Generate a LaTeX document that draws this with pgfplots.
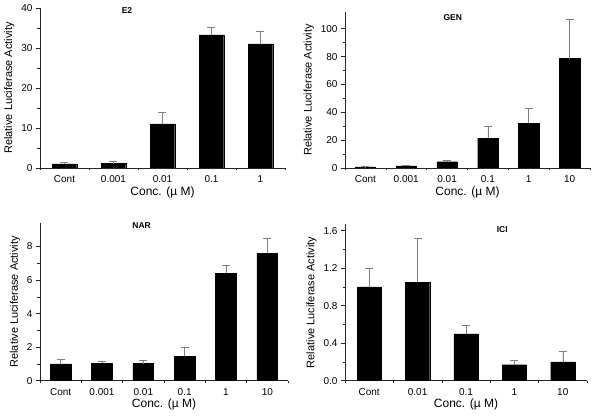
\documentclass[border=0pt]{standalone}
\usepackage{fontspec}
\setmainfont{Liberation Sans}
\usepackage{pgfplots}
\pgfplotsset{compat=1.18}

\pgfplotsset{
  panel/.style={
    scale only axis, anchor=south west,
    axis x line=bottom, axis y line=left,
    axis line style={-, black!85, line width=0.6pt},
    ybar, bar width=0.5, ymin=0,
    xtick=data,
    major x tick style={draw=none},
    tick align=outside,
    major tick length=4pt, minor tick length=2.5pt,
    every tick/.style={black!85, line width=0.6pt},
    minor y tick num=1,
    tick label style={font=\fontsize{10}{12}\selectfont},
    /pgf/number format/assume math mode=true,
    ylabel={Relative Luciferase Activity},
    xlabel={Conc. (µ M)},
    ylabel style={font=\fontsize{11}{13}\selectfont},
    xlabel style={font=\fontsize{12}{14}\selectfont, yshift=3pt},
    title style={font=\bfseries\fontsize{8.5}{10}\selectfont, anchor=north},
  },
  bars/.style={
    fill=black, draw=black,
    error bars/.cd, y dir=plus, y explicit,
    error bar style={gray, line width=0.6pt},
    error mark options={gray, rotate=90, mark size=4pt, line width=0.6pt},
  },
}

\begin{document}
\begin{tikzpicture}
\path[use as bounding box] (0pt,0pt) rectangle (600pt,417pt);

% E2
\begin{axis}[panel, at={(40pt,249pt)}, width=245pt, height=160pt,
    xmin=-0.5, xmax=4.5, ymax=40, ytick={0,10,20,30,40},
    minor xtick={-0.5,0.5,1.5,2.5,3.5,4.5},
    xticklabels={Cont,0.001,0.01,0.1,1},
    title={E2}, title style={at={(0.355,0.985)}}]
\addplot+[bars] coordinates {
  (0,1.0) +- (0,0.5)
  (1,1.1) +- (0,0.5)
  (2,11.0) +- (0,3.0)
  (3,33.3) +- (0,1.8)
  (4,31.0) +- (0,3.1)
};
\end{axis}

% GEN
\begin{axis}[panel, at={(345pt,249pt)}, width=245pt, height=156pt,
    xmin=-0.5, xmax=5.5, ymax=112, ytick={0,20,40,60,80,100},
    minor xtick={-0.5,0.5,1.5,2.5,3.5,4.5,5.5},
    xticklabels={Cont,0.001,0.01,0.1,1,10},
    title={GEN}, title style={at={(0.44,0.97)}}]
\addplot+[bars] coordinates {
  (0,0.8) +- (0,0.2)
  (1,1.5) +- (0,0.3)
  (2,4.5) +- (0,0.7)
  (3,21.5) +- (0,8.5)
  (4,32.0) +- (0,11.0)
  (5,78.5) +- (0,28.0)
};
\end{axis}

% NAR
\begin{axis}[panel, at={(40pt,36.3pt)}, width=248pt, height=157.7pt,
    xmin=-0.5, xmax=5.5, ymax=9.4, ytick={0,2,4,6,8},
    minor xtick={-0.5,0.5,1.5,2.5,3.5,4.5,5.5},
    xticklabels={Cont,0.001,0.01,0.1,1,10},
    title={NAR}, title style={at={(0.41,0.985)}}]
\addplot+[bars] coordinates {
  (0,1.0) +- (0,0.28)
  (1,1.05) +- (0,0.12)
  (2,1.02) +- (0,0.2)
  (3,1.45) +- (0,0.55)
  (4,6.4) +- (0,0.45)
  (5,7.6) +- (0,0.9)
};
\end{axis}

% ICI
\begin{axis}[panel, at={(345pt,36.3pt)}, width=242pt, height=156.7pt,
    xmin=-0.5, xmax=4.5, ymax=1.67, ytick={0,0.4,0.8,1.2,1.6},
    yticklabel style={/pgf/number format/.cd, fixed, fixed zerofill, precision=1},
    minor xtick={-0.5,0.5,1.5,2.5,3.5,4.5},
    xticklabels={Cont,0.01,0.1,1,10},
    title={ICI}, title style={at={(0.65,0.97)}}]
\addplot+[bars] coordinates {
  (0,1.0) +- (0,0.2)
  (1,1.05) +- (0,0.47)
  (2,0.5) +- (0,0.09)
  (3,0.17) +- (0,0.05)
  (4,0.2) +- (0,0.11)
};
\end{axis}
\end{tikzpicture}
\end{document}
